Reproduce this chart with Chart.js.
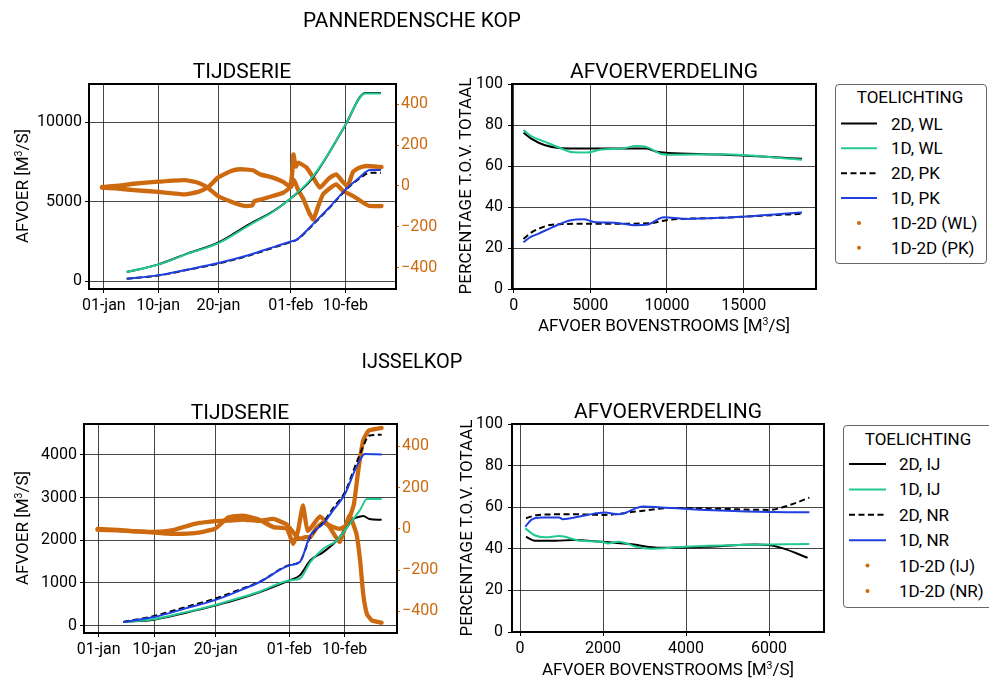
<!DOCTYPE html>
<html><head><meta charset="utf-8">
<script src="https://cdn.jsdelivr.net/npm/chart.js@4"></script>
<style>
html,body{margin:0;padding:0;background:#fff;}
body{width:989px;height:678px;position:relative;overflow:hidden;font-family:Roboto,'DejaVu Sans',sans-serif;color:#000;}
canvas{position:absolute;left:0;top:0;}
.t{position:absolute;transform:translate(-50%,-50%);white-space:nowrap;line-height:1;}
.r{position:absolute;transform:translate(-50%,-50%) rotate(-90deg);white-space:nowrap;line-height:1;}
.leg{position:absolute;border:1px solid #666;border-radius:4px;background:#fff;box-sizing:border-box;}
.li{position:absolute;font-size:17px;transform:translateY(-50%);white-space:nowrap;line-height:1;}
sup{font-size:0.62em;vertical-align:0.55em;line-height:0;}
#ov{position:absolute;left:0;top:0;pointer-events:none;}
</style></head>
<body>
<canvas id="c1" width="989" height="678"></canvas>
<canvas id="c2" width="989" height="678"></canvas>
<canvas id="c3" width="989" height="678"></canvas>
<canvas id="c4" width="989" height="678"></canvas>

<div class="t" style="left:412px;top:20px;font-size:20.8px">PANNERDENSCHE KOP</div>
<div class="t" style="left:412px;top:361px;font-size:20px">IJSSELKOP</div>
<div class="t" style="left:242px;top:71px;font-size:21px">TIJDSERIE</div>
<div class="t" style="left:664px;top:71px;font-size:21px">AFVOERVERDELING</div>
<div class="t" style="left:240px;top:412px;font-size:21px">TIJDSERIE</div>
<div class="t" style="left:668px;top:411px;font-size:21px">AFVOERVERDELING</div>
<div class="r" style="left:22px;top:186px;font-size:17px">AFVOER [M<sup>3</sup>/S]</div>
<div class="r" style="left:22px;top:528px;font-size:17px">AFVOER [M<sup>3</sup>/S]</div>
<div class="r" style="left:465px;top:186px;font-size:17px">PERCENTAGE T.O.V. TOTAAL</div>
<div class="r" style="left:466px;top:528px;font-size:17px">PERCENTAGE T.O.V. TOTAAL</div>
<div class="t" style="left:664px;top:325px;font-size:17px">AFVOER BOVENSTROOMS [M<sup>3</sup>/S]</div>
<div class="t" style="left:668px;top:669px;font-size:17px">AFVOER BOVENSTROOMS [M<sup>3</sup>/S]</div>

<script>
// ---------------- DATA ----------------
const dateTickDays = [0, 9, 19, 31, 40];
const dateTickLabels = ['01-jan', '10-jan', '20-jan', '01-feb', '10-feb'];
const diffTicks = [-400, -200, 0, 200, 400];
const percentTicks = [0, 20, 40, 60, 80, 100];

const pkLegendLabels = ['2D, WL', '1D, WL', '2D, PK', '1D, PK', '1D-2D (WL)', '1D-2D (PK)'];
const ijLegendLabels = ['2D, IJ', '1D, IJ', '2D, NR', '1D, NR', '1D-2D (IJ)', '1D-2D (NR)'];

// Pannerdensche Kop - tijdserie (dagen sinds 01-jan)
const pkTsAfvoerTicks = [0, 5000, 10000];
const pkTsWLDays = [3.8, 8.95, 13.7, 19.0, 24.2, 28.1, 31.0, 34.2, 36.9, 40.0, 43.3, 45.9];
const pkTsWL2D = [565, 1030, 1710, 2430, 3600, 4400, 5209, 6300, 7800, 9800, 11830, 11830];
const pkTsWL1D = [565, 1025, 1695, 2385, 3535, 4372, 5209, 6360, 7824, 9812, 11800, 11800];
const pkTsPKDays = [3.8, 8.95, 13.7, 19.0, 24.2, 28.1, 31.0, 31.9, 34.8, 37.5, 40.0, 42.2, 44.1, 45.9];
const pkTsPK2D = [140, 345, 690, 1100, 1620, 2100, 2460, 2580, 3600, 4650, 5700, 6400, 6810, 6810];
const pkTsPK1D = [146, 356, 711, 1130, 1653, 2134, 2489, 2594, 3640, 4686, 5732, 6464, 6987, 6987];
const pkDiffWLDays = [-0.3, 2, 5, 9, 13.4, 15.6, 17.2, 18.9, 21.1, 23.3, 24.6, 24.9, 26, 28, 29.7, 30.8, 31.2, 31.4, 31.8, 32.2, 33.6, 34.7, 35.8, 37.2, 38.5, 39.6, 40.4, 41.3, 42.2, 43.5, 46];
const pkDiffWL = [-5, 0, 11, 21, 29, 16, -8, -49, -77, -98, -95, -75, -66, -49, -33, -8, 60, 155, 95, 115, 90, 41, -8, 35, 57, 20, 0, 70, 88, 98, 93];
const pkDiffPKDays = [-0.3, 2, 5, 9, 13.4, 15.6, 17.2, 18.9, 21.1, 22.6, 24.7, 25.9, 28, 29.7, 30.3, 31.0, 31.5, 32.2, 33.0, 34.0, 34.7, 35.5, 36.3, 37.5, 38.5, 39.5, 40.2, 41.3, 43.0, 44.0, 46];
const pkDiffPK = [-8, -12, -20, -29, -41, -29, -8, 41, 74, 82, 77, 57, 41, 20, 8, -5, 30, -20, -60, -130, -164, -100, -41, -10, 8, -20, -33, -49, -82, -98, -98];

// IJsselkop - tijdserie
const ijTsAfvoerTicks = [0, 1000, 2000, 3000, 4000];
const ijTsIJ2DDays = [4.0, 9.0, 14.0, 19.1, 23.0, 26.2, 31.0, 32.7, 34.4, 36.5, 38.7, 40.4, 41.4, 42.5, 43.0, 44.0, 46.0];
const ijTsIJ2D = [85, 140, 296, 475, 632, 786, 1060, 1177, 1527, 1722, 1995, 2307, 2500, 2556, 2570, 2500, 2480];
const ijTsIJ1DDays = [4.0, 9.0, 14.0, 19.1, 23.0, 26.2, 31.0, 32.7, 34.4, 36.5, 38.7, 40.4, 41.4, 42.5, 43.6, 46.0];
const ijTsIJ1D = [85, 150, 310, 490, 655, 800, 1060, 1100, 1490, 1800, 1995, 2307, 2500, 2713, 2970, 2970];
const ijTsNR2DDays = [4.0, 9.0, 14.0, 19.1, 23.0, 26.2, 31.0, 32.7, 34.4, 36.5, 38.1, 40.0, 42.0, 43.3, 43.9, 46.0];
const ijTsNR2D = [86, 225, 430, 640, 850, 1030, 1420, 1500, 2080, 2420, 2750, 3120, 3850, 4300, 4450, 4475];
const ijTsNR1DDays = [4.0, 9.0, 14.0, 19.1, 23.0, 26.2, 31.0, 32.7, 34.4, 36.5, 38.1, 40.0, 42.0, 43.3, 46.0];
const ijTsNR1D = [86, 203, 398, 608, 827, 1022, 1412, 1490, 2110, 2385, 2700, 3073, 3750, 4020, 4010];
const ijDiffIJDays = [-0.2, 3, 6, 9, 11.8, 15.6, 18.9, 21.1, 23.5, 26, 28.4, 30.6, 31.7, 32.7, 33.6, 34.4, 35.5, 36.5, 38, 39.2, 40.2, 40.8, 41.5, 42.2, 43.0, 43.9, 46.0];
const ijDiffIJ = [-5, -8, -12, -15, -8, 24, 37, 40, 45, 38, 48, 20, -20, -48, -40, -41, 8, 30, 10, 0, 15, 56, 121, 282, 428, 476, 489];
const ijDiffNRDays = [-0.2, 3, 6, 9, 11.8, 15.6, 18.9, 21.1, 23.5, 26, 28.4, 30.6, 31.6, 32.4, 33.2, 34.0, 36.0, 37.5, 39.2, 40.2, 40.8, 41.9, 42.5, 43.0, 43.6, 44.4, 46.0];
const ijDiffNR = [0, -5, -12, -18, -24, -21, 0, 56, 64, 45, 8, 0, -73, -10, 113, -10, 60, 10, -65, 20, 64, -24, -153, -315, -412, -444, -455];

// Pannerdensche Kop - afvoerverdeling
const pkDistXTicks = [0, 5000, 10000, 15000];
const pkDistWL2DX = [640, 1140, 2052, 2964, 4334, 6612, 8664, 9347, 10075, 13450, 18806];
const pkDistWL2D = [76.2, 73.4, 70.1, 68.8, 68.5, 68.5, 68.5, 66.9, 66.4, 65.6, 63.5];
const pkDistWL1DX = [640, 1140, 2052, 2964, 3877, 4788, 5700, 7068, 7979, 8664, 9574, 10258, 13450, 18806];
const pkDistWL1D = [77.5, 74.6, 71.8, 69.0, 66.7, 66.6, 68.0, 68.5, 69.7, 69.3, 66.0, 65.5, 65.7, 63.1];
const pkDistPK2DX = [640, 1140, 1597, 2508, 4334, 6612, 8891, 10075, 13450, 18806];
const pkDistPK2D = [24.4, 27.5, 29.3, 31.4, 31.8, 31.8, 32.1, 33.7, 34.7, 36.7];
const pkDistPK1DX = [640, 1140, 1597, 2508, 3650, 4562, 5244, 6612, 7979, 8664, 9803, 11170, 13450, 18806];
const pkDistPK1D = [22.8, 25.5, 26.9, 30.1, 33.4, 34.0, 32.7, 32.3, 31.1, 31.3, 35.0, 34.2, 34.7, 37.3];

// IJsselkop - afvoerverdeling
const ijDistXTicks = [0, 2000, 4000, 6000];
const ijDistIJ2DX = [144, 355, 861, 1282, 1956, 2630, 3389, 4484, 5664, 6001, 6338, 6928];
const ijDistIJ2D = [45.8, 43.9, 43.9, 44.2, 43.4, 42.3, 40.5, 41.0, 42.1, 41.8, 40.2, 35.7];
const ijDistIJ1DX = [127, 355, 607, 944, 1451, 1956, 2125, 2378, 2799, 3136, 3979, 5243, 6971];
const ijDistIJ1D = [49.8, 46.5, 45.5, 46.1, 43.9, 43.4, 42.6, 43.4, 41.0, 40.0, 41.0, 41.8, 42.3];
const ijDistNR2DX = [144, 438, 1282, 2041, 2799, 3642, 4821, 6001, 6506, 6971];
const ijDistNR2D = [54.7, 56.3, 56.6, 56.3, 57.9, 59.6, 59.2, 58.7, 61.1, 64.6];
const ijDistNR1DX = [127, 270, 523, 944, 1028, 1620, 2041, 2378, 2968, 3389, 4821, 6001, 6971];
const ijDistNR1D = [50.6, 53.9, 55.0, 55.0, 54.2, 56.3, 57.4, 56.6, 60.3, 59.9, 58.4, 57.7, 57.6];

// ---------------- STYLE / BUILD ----------------
const W = 989, H = 678;
const ORANGE = '#cd6a10', GREEN = '#22c993', BLUE = '#1f3fe0', BLACK = '#000000';
const GRID = 'rgba(0,0,0,0.72)';
const DASH = [6, 3.5];
Chart.defaults.font.family = 'Roboto';
Chart.defaults.font.size = 16;
Chart.defaults.color = '#000';

function pts(xs, ys) { return xs.map((x, i) => ({x: x, y: ys[i]})); }
function fixedTicks(vals) { return s => { s.ticks = vals.map(v => ({value: v})); }; }
const numLabel = v => String(v);
const diffLabel = v => (v < 0 ? '\u2212' + Math.abs(v) : String(v));
const dateLabel = (v, i) => dateTickLabels[i];

const framePlugin = {
  id: 'frame',
  afterDatasetsDraw(chart) {
    const a = chart.chartArea, ctx = chart.ctx;
    ctx.save();
    ctx.strokeStyle = '#000';
    ctx.lineWidth = 2;
    ctx.strokeRect(a.left, a.top, a.right - a.left, a.bottom - a.top);
    ctx.restore();
  }
};

function lineDs(label, xs, ys, color, order, extra) {
  return Object.assign({
    label: label, data: pts(xs, ys), borderColor: color, backgroundColor: color,
    borderWidth: 2, pointRadius: 0, showLine: true, cubicInterpolationMode: 'monotone',
    yAxisID: 'y', order: order
  }, extra || {});
}
function diffDs(label, xs, ys) {
  return {
    label: label, data: pts(xs, ys), borderColor: ORANGE, backgroundColor: ORANGE,
    borderWidth: 4.3, pointRadius: 0, showLine: true, tension: 0.15,
    borderJoinStyle: 'round', borderCapStyle: 'round', yAxisID: 'y2', order: 10
  };
}
function xScale(min, max, ticks, cb) {
  return {
    type: 'linear', position: 'bottom', min: min, max: max, bounds: 'data',
    afterBuildTicks: fixedTicks(ticks), afterFit: s => { s.height = 30; },
    grid: {color: GRID, lineWidth: 1, drawTicks: true, tickLength: 4, tickColor: '#000'},
    border: {display: false},
    ticks: {autoSkip: false, maxRotation: 0, padding: 3, callback: cb}
  };
}
function yLeft(min, max, ticks, pad) {
  return {
    type: 'linear', position: 'left', min: min, max: max, bounds: 'data',
    afterBuildTicks: fixedTicks(ticks), afterFit: s => { s.width = 60; },
    grid: {color: GRID, lineWidth: 1, drawTicks: true, tickLength: 4, tickColor: '#000'},
    border: {display: false},
    ticks: {padding: pad, callback: numLabel}
  };
}
function yRight(min, max) {
  return {
    type: 'linear', position: 'right', min: min, max: max, bounds: 'data',
    afterBuildTicks: fixedTicks(diffTicks), afterFit: s => { s.width = 50; },
    grid: {drawOnChartArea: false, drawTicks: true, tickLength: 3, tickColor: ORANGE, lineWidth: 1},
    border: {display: false},
    ticks: {padding: 2, color: ORANGE, callback: diffLabel}
  };
}
function makeChart(id, f, datasets, scales) {
  const hasRight = !!scales.y2;
  return new Chart(document.getElementById(id), {
    type: 'scatter',
    data: {datasets: datasets},
    options: {
      responsive: false, animation: false, events: [],
      layout: {padding: {left: f.L - 60, right: W - f.R - (hasRight ? 50 : 0), top: f.T, bottom: H - f.B - 30}},
      plugins: {legend: {display: false}, tooltip: {enabled: false}, title: {display: false}},
      scales: scales
    },
    plugins: [framePlugin]
  });
}

// Top-left: Pannerdensche Kop tijdserie
makeChart('c1', {L: 89, R: 396, T: 84, B: 289}, [
  lineDs(pkLegendLabels[0], pkTsWLDays, pkTsWL2D, BLACK, 4),
  lineDs(pkLegendLabels[1], pkTsWLDays, pkTsWL1D, GREEN, 3),
  lineDs(pkLegendLabels[2], pkTsPKDays, pkTsPK2D, BLACK, 2, {borderDash: DASH}),
  lineDs(pkLegendLabels[3], pkTsPKDays, pkTsPK1D, BLUE, 1),
  diffDs(pkLegendLabels[4], pkDiffWLDays, pkDiffWL),
  diffDs(pkLegendLabels[5], pkDiffPKDays, pkDiffPK)
], {
  x: xScale(-2.45, 48.4, dateTickDays, dateLabel),
  y: yLeft(-500, 12390, pkTsAfvoerTicks, 3),
  y2: yRight(-505, 500)
});

// Top-right: Pannerdensche Kop afvoerverdeling
makeChart('c2', {L: 512, R: 816, T: 84, B: 289}, [
  lineDs(pkLegendLabels[0], pkDistWL2DX, pkDistWL2D, BLACK, 4),
  lineDs(pkLegendLabels[1], pkDistWL1DX, pkDistWL1D, GREEN, 3),
  lineDs(pkLegendLabels[2], pkDistPK2DX, pkDistPK2D, BLACK, 2, {borderDash: DASH}),
  lineDs(pkLegendLabels[3], pkDistPK1DX, pkDistPK1D, BLUE, 1)
], {
  x: xScale(-110, 19720, pkDistXTicks, numLabel),
  y: yLeft(0, 100, percentTicks, 5)
});

// Bottom-left: IJsselkop tijdserie
makeChart('c3', {L: 84, R: 397, T: 424, B: 633}, [
  lineDs(ijLegendLabels[0], ijTsIJ2DDays, ijTsIJ2D, BLACK, 4),
  lineDs(ijLegendLabels[1], ijTsIJ1DDays, ijTsIJ1D, GREEN, 3),
  lineDs(ijLegendLabels[2], ijTsNR2DDays, ijTsNR2D, BLACK, 2, {borderDash: DASH}),
  lineDs(ijLegendLabels[3], ijTsNR1DDays, ijTsNR1D, BLUE, 1),
  diffDs(ijLegendLabels[4], ijDiffIJDays, ijDiffIJ),
  diffDs(ijLegendLabels[5], ijDiffNRDays, ijDiffNR)
], {
  x: xScale(-2.4, 48.5, dateTickDays, dateLabel),
  y: yLeft(-173, 4725, ijTsAfvoerTicks, 3),
  y2: yRight(-505, 508)
});

// Bottom-right: IJsselkop afvoerverdeling
makeChart('c4', {L: 512, R: 824, T: 424, B: 632}, [
  lineDs(ijLegendLabels[0], ijDistIJ2DX, ijDistIJ2D, BLACK, 4),
  lineDs(ijLegendLabels[1], ijDistIJ1DX, ijDistIJ1D, GREEN, 3),
  lineDs(ijLegendLabels[2], ijDistNR2DX, ijDistNR2D, BLACK, 2, {borderDash: DASH}),
  lineDs(ijLegendLabels[3], ijDistNR1DX, ijDistNR1D, BLUE, 1)
], {
  x: xScale(-193, 7324, ijDistXTicks, numLabel),
  y: yLeft(0, 100, percentTicks, 5)
});

// ---------------- LEGENDS (HTML/SVG) ----------------
const handleStyles = [
  {c: BLACK, dash: null}, {c: GREEN, dash: null}, {c: BLACK, dash: '6,3.5'},
  {c: BLUE, dash: null}, {c: ORANGE, dot: true}, {c: ORANGE, dot: true}
];
const svgNS = 'http://www.w3.org/2000/svg';
const ov = document.createElementNS(svgNS, 'svg');
ov.setAttribute('id', 'ov'); ov.setAttribute('width', W); ov.setAttribute('height', H);

function legend(labels, box, titleX, titleY, y0, dy, hx0, hx1, tx) {
  const b = document.createElement('div');
  b.className = 'leg';
  b.style.left = box.x + 'px'; b.style.top = box.y + 'px';
  b.style.width = box.w + 'px'; b.style.height = box.h + 'px';
  document.body.appendChild(b);
  const t = document.createElement('div');
  t.className = 't'; t.style.left = titleX + 'px'; t.style.top = titleY + 'px'; t.style.fontSize = '17px';
  t.textContent = 'TOELICHTING';
  document.body.appendChild(t);
  labels.forEach((lab, i) => {
    const y = y0 + i * dy;
    const st = handleStyles[i];
    if (st.dot) {
      const c = document.createElementNS(svgNS, 'circle');
      c.setAttribute('cx', (hx0 + hx1) / 2); c.setAttribute('cy', y); c.setAttribute('r', 2);
      c.setAttribute('fill', st.c); ov.appendChild(c);
    } else {
      const l = document.createElementNS(svgNS, 'line');
      l.setAttribute('x1', hx0); l.setAttribute('x2', hx1); l.setAttribute('y1', y); l.setAttribute('y2', y);
      l.setAttribute('stroke', st.c); l.setAttribute('stroke-width', 2);
      if (st.dash) l.setAttribute('stroke-dasharray', st.dash);
      ov.appendChild(l);
    }
    const d = document.createElement('div');
    d.className = 'li'; d.style.left = tx + 'px'; d.style.top = y + 'px';
    d.textContent = lab;
    document.body.appendChild(d);
  });
}
legend(pkLegendLabels, {x: 835, y: 84, w: 152, h: 180}, 910, 97, 123.5, 24.85, 841, 877, 891);
legend(ijLegendLabels, {x: 843, y: 425, w: 152, h: 183}, 918, 438.5, 464, 25.4, 849, 886, 899);
document.body.appendChild(ov);
</script>
</body></html>
